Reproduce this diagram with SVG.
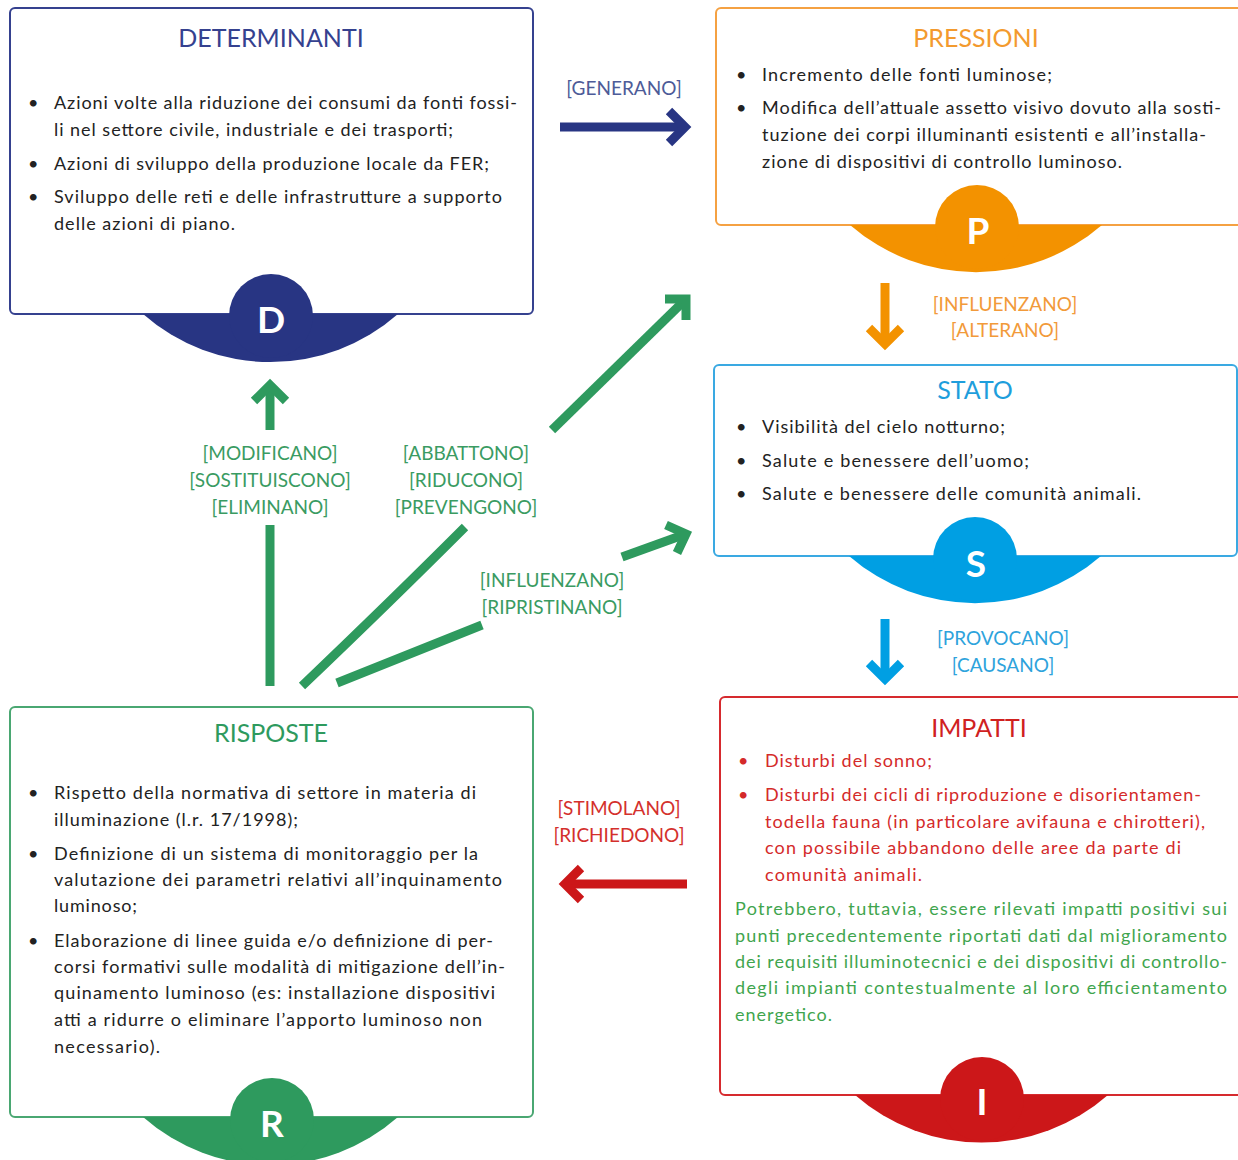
<svg xmlns="http://www.w3.org/2000/svg" width="1238" height="1160" viewBox="0 0 1238 1160">
<style>
text{font-family:Lato,"Open Sans","Liberation Sans",sans-serif}
.box{fill:#fff;stroke-width:2}
.title{font-size:25px;text-anchor:middle}
.body{font-size:18px;fill:#222}
.red{font-size:18px;fill:#d42a2a}
.grn{font-size:18px;fill:#3fa54e}
.lbl{font-size:19px;text-anchor:middle}
.letter{font-size:37px;font-weight:bold;fill:#fff;text-anchor:middle}
.arr{fill:none;stroke-width:9;stroke-linejoin:miter;stroke-linecap:butt}
</style>
<rect width="1238" height="1160" fill="#fff"/>

<g id="connectors">
  <g stroke="#283583" class="arr">
    <path d="M560 127 H684"/>
    <path d="M669 111 L685 127 L669 143"/>
  </g>
  <text class="lbl" x="624" y="95" fill="#4d5b98">[GENERANO]</text>

  <g stroke="#f39200" class="arr">
    <path d="M885 283 V343"/>
    <path d="M869 328 L885 344 L901 328"/>
  </g>
  <text class="lbl" x="1005" y="311" fill="#f29a3a">[INFLUENZANO]</text>
  <text class="lbl" x="1005" y="337" fill="#f29a3a">[ALTERANO]</text>

  <g stroke="#009fe3" class="arr">
    <path d="M885 619 V678"/>
    <path d="M869 663 L885 679 L901 663"/>
  </g>
  <text class="lbl" x="1003" y="645" fill="#2ea3dc">[PROVOCANO]</text>
  <text class="lbl" x="1003" y="672" fill="#2ea3dc">[CAUSANO]</text>

  <g stroke="#cc1719" class="arr">
    <path d="M687 884 H566"/>
    <path d="M581 868 L565 884 L581 900"/>
  </g>
  <text class="lbl" x="619" y="815" fill="#d4302c">[STIMOLANO]</text>
  <text class="lbl" x="619" y="842" fill="#d4302c">[RICHIEDONO]</text>

  <g stroke="#2e9a5e" class="arr">
    <path d="M270 686 V525"/>
    <path d="M270 430 V386"/>
    <path d="M254 401 L270 385 L286 401"/>
    <path d="M302 686 Q390 602 465 527"/>
    <path d="M552 430 L684 301"/>
    <path d="M665 299 L686 299 L686 320"/>
    <path d="M337 683 L482 625"/>
    <path d="M622 557 L683 535"/>
    <path d="M666 525 L686 534 L677 553"/>
  </g>
  <g fill="#3a9b62">
    <text class="lbl" x="270" y="460">[MODIFICANO]</text>
    <text class="lbl" x="270" y="487">[SOSTITUISCONO]</text>
    <text class="lbl" x="270" y="514">[ELIMINANO]</text>
    <text class="lbl" x="466" y="460">[ABBATTONO]</text>
    <text class="lbl" x="466" y="487">[RIDUCONO]</text>
    <text class="lbl" x="466" y="514">[PREVENGONO]</text>
    <text class="lbl" x="552" y="587">[INFLUENZANO]</text>
    <text class="lbl" x="552" y="614">[RIPRISTINANO]</text>
  </g>
</g>

<g id="determinanti">
  <rect class="box" x="10" y="8" width="523" height="306" rx="5" stroke="#35418f"/>
  <text class="title" x="271" y="47" fill="#35418f">DETERMINANTI</text>
  <text class="body" x="28" y="109">•</text>
  <text class="body" x="54" y="109" textLength="463" lengthAdjust="spacing">Azioni volte alla riduzione dei consumi da fonti fossi-</text>
  <text class="body" x="54" y="136" textLength="399" lengthAdjust="spacing">li nel settore civile, industriale e dei trasporti;</text>
  <text class="body" x="28" y="170">•</text>
  <text class="body" x="54" y="170" textLength="435" lengthAdjust="spacing">Azioni di sviluppo della produzione locale da FER;</text>
  <text class="body" x="28" y="203">•</text>
  <text class="body" x="54" y="203" textLength="448" lengthAdjust="spacing">Sviluppo delle reti e delle infrastrutture a supporto</text>
  <text class="body" x="54" y="230" textLength="181" lengthAdjust="spacing">delle azioni di piano.</text>
  <g fill="#283583">
    <path d="M143 314 A193 193 0 0 0 398 314 Z"/>
    <circle cx="271" cy="316" r="42"/>
  </g>
  <text class="letter" x="271" y="333">D</text>
</g>

<g id="pressioni">
  <rect class="box" x="716" y="8" width="530" height="217" rx="5" stroke="#f5a142"/>
  <text class="title" x="976" y="47" fill="#f39a2e">PRESSIONI</text>
  <text class="body" x="736" y="81">•</text>
  <text class="body" x="762" y="81" textLength="290" lengthAdjust="spacing">Incremento delle fonti luminose;</text>
  <text class="body" x="736" y="114">•</text>
  <text class="body" x="762" y="114" textLength="459" lengthAdjust="spacing">Modifica dell’attuale assetto visivo dovuto alla sosti-</text>
  <text class="body" x="762" y="141" textLength="444" lengthAdjust="spacing">tuzione dei corpi illuminanti esistenti e all’installa-</text>
  <text class="body" x="762" y="168" textLength="360" lengthAdjust="spacing">zione di dispositivi di controllo luminoso.</text>
  <g fill="#f39200">
    <path d="M850 225 A192 192 0 0 0 1102 225 Z"/>
    <circle cx="977" cy="227" r="42"/>
  </g>
  <text class="letter" x="978" y="244">P</text>
</g>

<g id="stato">
  <rect class="box" x="714" y="365" width="523" height="191" rx="5" stroke="#3aa9e2"/>
  <text class="title" x="975" y="399" fill="#1e9edc">STATO</text>
  <text class="body" x="736" y="433">•</text>
  <text class="body" x="762" y="433" textLength="243" lengthAdjust="spacing">Visibilità del cielo notturno;</text>
  <text class="body" x="736" y="467">•</text>
  <text class="body" x="762" y="467" textLength="267" lengthAdjust="spacing">Salute e benessere dell’uomo;</text>
  <text class="body" x="736" y="500">•</text>
  <text class="body" x="762" y="500" textLength="379" lengthAdjust="spacing">Salute e benessere delle comunità animali.</text>
  <g fill="#009fe3">
    <path d="M849 556 A192 192 0 0 0 1101 556 Z"/>
    <circle cx="975" cy="559" r="42"/>
  </g>
  <text class="letter" x="976" y="577">S</text>
</g>

<g id="impatti">
  <rect class="box" x="720" y="697" width="526" height="398" rx="5" stroke="#d62a2e"/>
  <text class="title" x="979" y="737" fill="#d0211f">IMPATTI</text>
  <text class="red" x="738" y="767">•</text>
  <text class="red" x="765" y="767" textLength="167" lengthAdjust="spacing">Disturbi del sonno;</text>
  <text class="red" x="738" y="801">•</text>
  <text class="red" x="765" y="801" textLength="436" lengthAdjust="spacing">Disturbi dei cicli di riproduzione e disorientamen-</text>
  <text class="red" x="765" y="828" textLength="440" lengthAdjust="spacing">todella fauna (in particolare avifauna e chirotteri),</text>
  <text class="red" x="765" y="854" textLength="416" lengthAdjust="spacing">con possibile abbandono delle aree da parte di</text>
  <text class="red" x="765" y="881" textLength="157" lengthAdjust="spacing">comunità animali.</text>
  <text class="grn" x="735" y="915" textLength="492" lengthAdjust="spacing">Potrebbero, tuttavia, essere rilevati impatti positivi sui</text>
  <text class="grn" x="735" y="942" textLength="492" lengthAdjust="spacing">punti precedentemente riportati dati dal miglioramento</text>
  <text class="grn" x="735" y="968" textLength="492" lengthAdjust="spacing">dei requisiti illuminotecnici e dei dispositivi di controllo-</text>
  <text class="grn" x="735" y="994" textLength="492" lengthAdjust="spacing">degli impianti contestualmente al loro efficientamento</text>
  <text class="grn" x="735" y="1021" textLength="97" lengthAdjust="spacing">energetico.</text>
  <g fill="#cc1719">
    <path d="M855 1095 A192 192 0 0 0 1108 1095 Z"/>
    <circle cx="982" cy="1099" r="42"/>
  </g>
  <text class="letter" x="982" y="1115">I</text>
</g>

<g id="risposte">
  <rect class="box" x="10" y="707" width="523" height="410" rx="5" stroke="#4aa772"/>
  <text class="title" x="271" y="742" fill="#2e9a5e">RISPOSTE</text>
  <text class="body" x="28" y="799">•</text>
  <text class="body" x="54" y="799" textLength="422" lengthAdjust="spacing">Rispetto della normativa di settore in materia di</text>
  <text class="body" x="54" y="826" textLength="244" lengthAdjust="spacing">illuminazione (l.r. 17/1998);</text>
  <text class="body" x="28" y="860">•</text>
  <text class="body" x="54" y="860" textLength="424" lengthAdjust="spacing">Definizione di un sistema di monitoraggio per la</text>
  <text class="body" x="54" y="886" textLength="448" lengthAdjust="spacing">valutazione dei parametri relativi all’inquinamento</text>
  <text class="body" x="54" y="912" textLength="83" lengthAdjust="spacing">luminoso;</text>
  <text class="body" x="28" y="947">•</text>
  <text class="body" x="54" y="947" textLength="439" lengthAdjust="spacing">Elaborazione di linee guida e/o definizione di per-</text>
  <text class="body" x="54" y="973" textLength="451" lengthAdjust="spacing">corsi formativi sulle modalità di mitigazione dell’in-</text>
  <text class="body" x="54" y="999" textLength="441" lengthAdjust="spacing">quinamento luminoso (es: installazione dispositivi</text>
  <text class="body" x="54" y="1026" textLength="428" lengthAdjust="spacing">atti a ridurre o eliminare l’apporto luminoso non</text>
  <text class="body" x="54" y="1053" textLength="106" lengthAdjust="spacing">necessario).</text>
  <g fill="#2e9a5e">
    <path d="M143 1117 A193 193 0 0 0 398 1117 Z"/>
    <circle cx="272" cy="1120" r="42"/>
  </g>
  <text class="letter" x="272" y="1137">R</text>
</g>
</svg>
